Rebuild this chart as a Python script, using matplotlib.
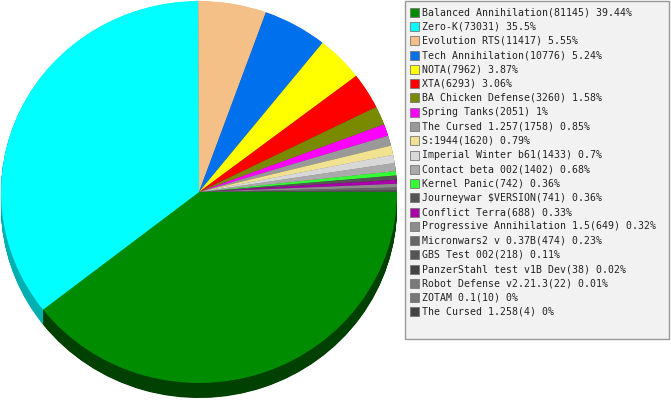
import matplotlib
matplotlib.use("Agg")
import matplotlib.pyplot as plt
from matplotlib.patches import Rectangle
from matplotlib.colors import to_rgb

names = ["Balanced Annihilation", "Zero-K", "Evolution RTS", "Tech Annihilation",
         "NOTA", "XTA", "BA Chicken Defense", "Spring Tanks", "The Cursed 1.257",
         "S:1944", "Imperial Winter b61", "Contact beta 002", "Kernel Panic",
         "Journeywar $VERSION", "Conflict Terra", "Progressive Annihilation 1.5",
         "Micronwars2 v 0.37B", "GBS Test 002", "PanzerStahl test v1B Dev",
         "Robot Defense v2.21.3", "ZOTAM 0.1", "The Cursed 1.258"]
values = [81145, 73031, 11417, 10776, 7962, 6293, 3260, 2051, 1758, 1620, 1433,
          1402, 742, 741, 688, 649, 474, 218, 38, 22, 10, 4]
colors = ["#008C00", "#00FFFF", "#F5C087", "#0070EC", "#FFFF00", "#FF0000",
          "#7A8A00", "#FF00FF", "#999999", "#F0E290", "#D8D8D8", "#AAAAAA",
          "#33FF33", "#555555", "#AA00AA", "#8C8C8C", "#666666", "#555555",
          "#444444", "#7A7A7A", "#777777", "#444444"]

W, H = 671, 400
fig = plt.figure(figsize=(W / 100, H / 100), dpi=100)
fig.patch.set_facecolor("white")

# pie geometry in pixels
cx, cy, rx, ry, depth = 199.0, 192.0, 198.0, 191.0, 15.0

ax = fig.add_axes([0, 0, 1, 1])
side_factor = {0: 0.46, 1: 0.69}
side_colors = []
for i, c in enumerate(colors):
    f = side_factor.get(i, 0.6)
    r, g, b = to_rgb(c)
    side_colors.append((r * f, g * f, b * f))

steps = 30
dy = depth / ry
for k in range(steps, 0, -1):
    off = -dy * k / steps
    wedges, _ = ax.pie(values, colors=side_colors, startangle=0, counterclock=False,
                       radius=1.0, center=(0, off), wedgeprops=dict(linewidth=0))
    for w in wedges:
        w.set_zorder(1)
wedges, _ = ax.pie(values, colors=colors, startangle=0, counterclock=False,
                   radius=1.0, center=(0, 0), wedgeprops=dict(linewidth=0))
for w in wedges:
    w.set_zorder(2)

ax.set_aspect("auto")
ax.set_xlim((0 - cx) / rx, (W - cx) / rx)
ax.set_ylim((cy - H) / ry, cy / ry)
ax.axis("off")

# legend in pixel coordinates
lax = fig.add_axes([0, 0, 1, 1], facecolor="none")
lax.set_xlim(0, W)
lax.set_ylim(H, 0)
lax.axis("off")
lax.add_patch(Rectangle((405, 0.5), 264, 338.5, facecolor="#F2F2F2",
                        edgecolor="#999999", linewidth=1.0, zorder=1))
total = sum(values)
y0, step = 12.3, 14.27
for i, (n, v, c) in enumerate(zip(names, values, colors)):
    y = y0 + step * i
    pct = round(v / total * 100, 2)
    label = f"{n}({v}) {pct:g}%"
    lax.add_patch(Rectangle((410, y - 4.5), 9, 9, facecolor=c,
                            edgecolor="#777777", linewidth=0.6, zorder=2))
    lax.text(422, y, label, fontsize=7.15, family="DejaVu Sans Mono",
             color="#222222", va="center", ha="left", zorder=3)

fig.savefig("out.png", dpi=100, facecolor="white")
